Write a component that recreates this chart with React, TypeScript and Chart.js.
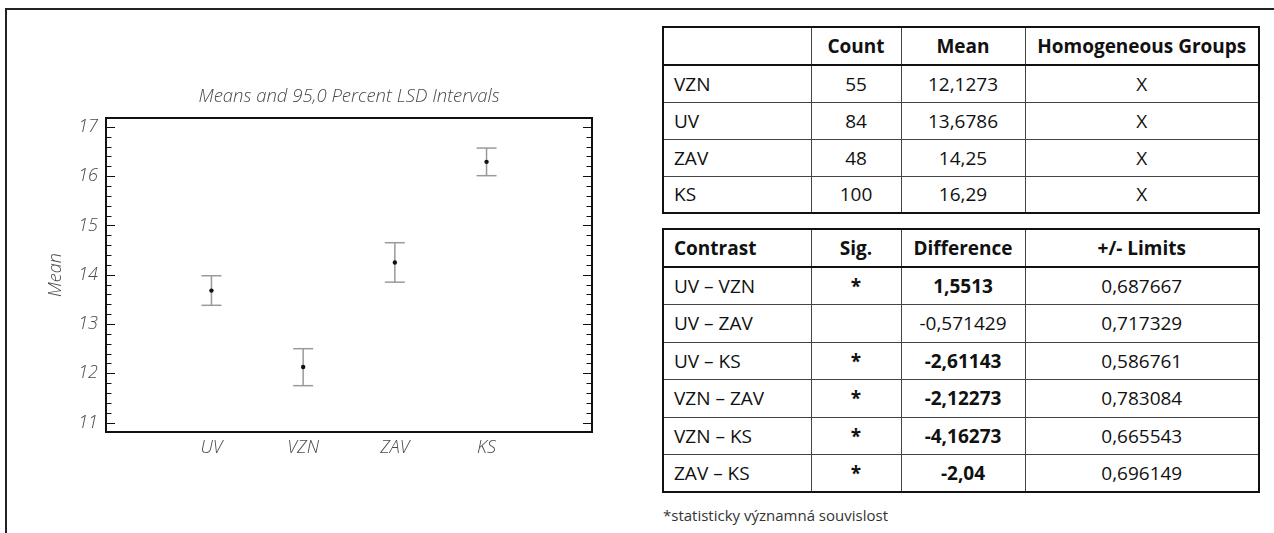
import React, { useEffect, useRef } from 'react';
import { Chart, registerables } from 'chart.js';

Chart.register(...registerables);

// ---- chart data ----
const categories = ['UV', 'VZN', 'ZAV', 'KS'];
const means = [13.6786, 12.1273, 14.25, 16.29];
const lowerLimits = [13.38, 11.75, 13.85, 16.01];
const upperLimits = [13.98, 12.5, 14.65, 16.57];
const yTickValues = [11, 12, 13, 14, 15, 16, 17];
const yMin = 10.81;
const yMax = 17.18;
const xMin = -1.15;
const xMax = 4.15;
const chartTitle = 'Means and 95,0 Percent LSD Intervals';
const yTitle = 'Mean';

// ---- table data ----
const groupHeaders = ['', 'Count', 'Mean', 'Homogeneous Groups'];
const groupNames = ['VZN', 'UV', 'ZAV', 'KS'];
const groupCounts = ['55', '84', '48', '100'];
const groupMeans = ['12,1273', '13,6786', '14,25', '16,29'];
const groupHomog = ['X', 'X', 'X', 'X'];

const contrastHeaders = ['Contrast', 'Sig.', 'Difference', '+/- Limits'];
const contrastNames = ['UV – VZN', 'UV – ZAV', 'UV – KS', 'VZN – ZAV', 'VZN – KS', 'ZAV – KS'];
const contrastSig = ['*', '', '*', '*', '*', '*'];
const contrastDiff = ['1,5513', '-0,571429', '-2,61143', '-2,12273', '-4,16273', '-2,04'];
const contrastLimits = ['0,687667', '0,717329', '0,586761', '0,783084', '0,665543', '0,696149'];
const footnote = '*statisticky významná souvislost';

const FONT = "'Open Sans', 'Noto Sans', sans-serif";
const TEXT_GRAY = '#4a4a4a';
const MINOR_PER_UNIT = 5;

const boxTicksPlugin = {
  id: 'boxTicks',
  afterDraw(chart: any) {
    const { ctx, chartArea: a, scales } = chart;
    const y = scales.y;
    ctx.save();
    ctx.strokeStyle = '#111';
    ctx.lineWidth = 1;
    const kStart = Math.ceil(y.min * MINOR_PER_UNIT - 1e-9);
    const kEnd = Math.floor(y.max * MINOR_PER_UNIT + 1e-9);
    for (let k = kStart; k <= kEnd; k++) {
      const v = k / MINOR_PER_UNIT;
      const py = Math.round(y.getPixelForValue(v)) + 0.5;
      const len = k % MINOR_PER_UNIT === 0 ? 9 : 5.5;
      ctx.beginPath();
      ctx.moveTo(a.left, py);
      ctx.lineTo(a.left + len, py);
      ctx.moveTo(a.right, py);
      ctx.lineTo(a.right - len, py);
      ctx.stroke();
    }
    ctx.lineWidth = 2;
    ctx.strokeRect(a.left, a.top, a.right - a.left, a.bottom - a.top);
    ctx.restore();
  },
};

function MeansChart() {
  const ref = useRef<HTMLCanvasElement | null>(null);
  useEffect(() => {
    if (!ref.current) return;
    const errData: any[] = [];
    categories.forEach((_, i) => {
      errData.push({ x: i, y: lowerLimits[i] }, { x: i, y: upperLimits[i] }, { x: i, y: null });
    });
    const tickFont = { family: FONT, size: 18, style: 'italic' as const, weight: '300' as any };
    const chart = new Chart(ref.current, {
      type: 'scatter',
      data: {
        datasets: [
          {
            type: 'scatter',
            data: means.map((m, i) => ({ x: i, y: m })),
            pointRadius: 2.2,
            pointBackgroundColor: '#111',
            pointBorderColor: '#111',
            pointBorderWidth: 0,
          } as any,
          {
            type: 'line',
            data: errData,
            borderColor: '#9a9a9a',
            borderWidth: 1.5,
            spanGaps: false,
            fill: false,
            pointStyle: 'line',
            pointRadius: 10,
            pointHoverRadius: 10,
            pointBorderColor: '#9a9a9a',
            pointBorderWidth: 1.5,
          } as any,
        ],
      },
      options: {
        animation: false,
        responsive: false,
        events: [],
        layout: { padding: { left: 0, right: 48, top: 0, bottom: 61 } },
        plugins: { legend: { display: false }, tooltip: { enabled: false }, title: { display: false } },
        scales: {
          x: {
            type: 'linear',
            position: 'bottom',
            min: xMin,
            max: xMax,
            grid: { display: false, drawTicks: false },
            border: { display: false },
            afterBuildTicks: (s: any) => {
              s.ticks = categories.map((_, i) => ({ value: i }));
            },
            ticks: {
              callback: (v: any) => categories[v] ?? '',
              font: tickFont,
              color: TEXT_GRAY,
              padding: 5,
              maxRotation: 0,
              autoSkip: false,
            },
            afterFit: (s: any) => {
              s.height = 40;
            },
          },
          xTop: {
            type: 'linear',
            position: 'top',
            min: xMin,
            max: xMax,
            grid: { display: false, drawTicks: false },
            border: { display: false },
            ticks: { display: false },
            title: {
              display: true,
              text: chartTitle,
              font: { family: FONT, size: 18.5, style: 'italic', weight: '300' as any, lineHeight: 1.2 },
              color: TEXT_GRAY,
              padding: { top: 85.5, bottom: 0 },
            },
            afterFit: (s: any) => {
              s.height = 118;
            },
          },
          y: {
            type: 'linear',
            position: 'left',
            min: yMin,
            max: yMax,
            grid: { display: false, drawTicks: false },
            border: { display: false },
            afterBuildTicks: (s: any) => {
              s.ticks = yTickValues.map((v) => ({ value: v }));
            },
            ticks: {
              callback: (v: any) => String(v),
              font: tickFont,
              color: TEXT_GRAY,
              padding: 8,
            },
            title: {
              display: true,
              text: yTitle,
              font: { family: FONT, size: 18, style: 'italic', weight: '300' as any, lineHeight: 1.2 },
              color: TEXT_GRAY,
              padding: { top: 45, bottom: 0 },
            },
            afterFit: (s: any) => {
              s.width = 106;
            },
          },
        } as any,
      },
      plugins: [boxTicksPlugin],
    } as any);
    return () => chart.destroy();
  }, []);
  return (
    <canvas
      ref={ref}
      width={640}
      height={533}
      style={{ position: 'absolute', left: 0, top: 0, width: 640, height: 533 }}
    />
  );
}

const cellBase: React.CSSProperties = {
  border: '1px solid #444',
  padding: '0 10px',
  whiteSpace: 'nowrap',
  overflow: 'hidden',
};

function DataTable({
  top,
  headers,
  rows,
  rowHeight,
  bold,
}: {
  top: number;
  headers: string[];
  rows: string[][];
  rowHeight: number;
  bold?: (r: number, c: number) => boolean;
}) {
  const widths = [148, 90, 124, 234];
  return (
    <table
      style={{
        position: 'absolute',
        left: 662,
        top,
        width: 596,
        borderCollapse: 'collapse',
        tableLayout: 'fixed',
        fontFamily: FONT,
        fontSize: 19,
        color: '#111',
        border: '2.5px solid #111',
      }}
    >
      <colgroup>
        {widths.map((w, i) => (
          <col key={i} style={{ width: w }} />
        ))}
      </colgroup>
      <thead>
        <tr style={{ height: 38 }}>
          {headers.map((h, i) => (
            <th
              key={i}
              style={{
                ...cellBase,
                fontWeight: 700,
                textAlign: i === 0 ? 'left' : 'center',
                borderBottom: '2.5px solid #111',
              }}
            >
              {h}
            </th>
          ))}
        </tr>
      </thead>
      <tbody>
        {rows.map((row, r) => (
          <tr key={r} style={{ height: rowHeight }}>
            {row.map((cell, c) => (
              <td
                key={c}
                style={{
                  ...cellBase,
                  textAlign: c === 0 ? 'left' : 'center',
                  fontWeight: bold && bold(r, c) ? 700 : 400,
                }}
              >
                {cell}
              </td>
            ))}
          </tr>
        ))}
      </tbody>
    </table>
  );
}

export default function App() {
  const groupRows = groupNames.map((n, i) => [n, groupCounts[i], groupMeans[i], groupHomog[i]]);
  const contrastRows = contrastNames.map((n, i) => [n, contrastSig[i], contrastDiff[i], contrastLimits[i]]);
  return (
    <div
      style={{
        position: 'absolute',
        left: 0,
        top: 0,
        width: 1274,
        height: 533,
        overflow: 'hidden',
        background: '#fff',
      }}
    >
      <div style={{ position: 'absolute', left: 5, top: 8, width: 1269, height: 2, background: '#222' }} />
      <div style={{ position: 'absolute', left: 5, top: 8, width: 2, height: 525, background: '#222' }} />
      <MeansChart />
      <DataTable top={26} headers={groupHeaders} rows={groupRows} rowHeight={37} />
      <DataTable
        top={228}
        headers={contrastHeaders}
        rows={contrastRows}
        rowHeight={37.5}
        bold={(r, c) => (c === 2 || c === 1) && contrastSig[r] === '*'}
      />
      <div
        style={{
          position: 'absolute',
          left: 663,
          top: 505,
          fontFamily: FONT,
          fontSize: 15,
          color: '#333',
          whiteSpace: 'nowrap',
        }}
      >
        {footnote}
      </div>
    </div>
  );
}
